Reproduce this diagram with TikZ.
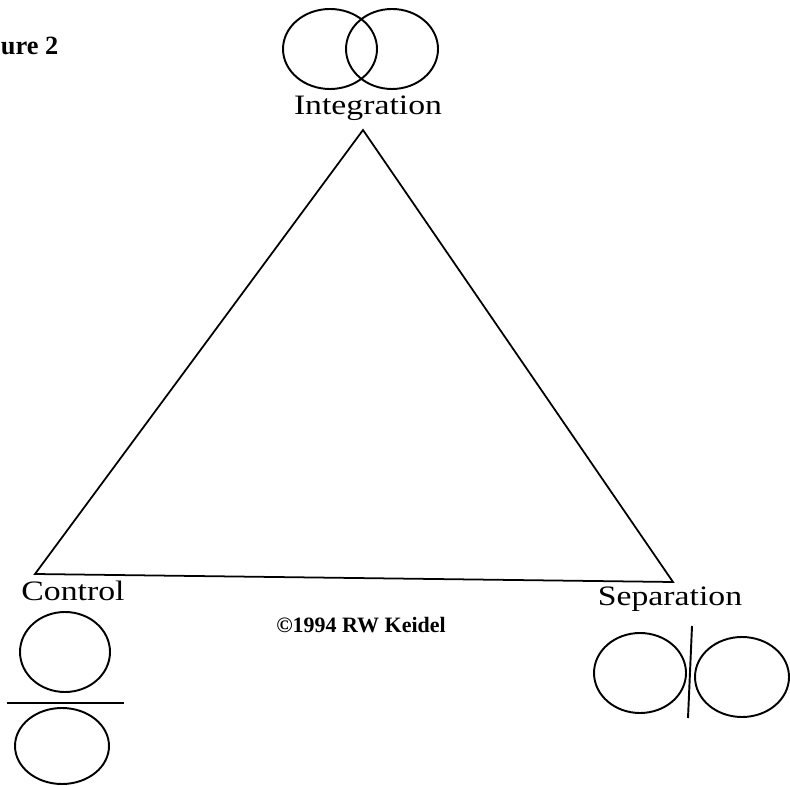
\documentclass[tikz,border=0pt]{standalone}
\usepackage{fontspec}
\setmainfont{Liberation Serif}
\usepackage{tikz}
\usetikzlibrary{positioning}

\begin{document}
\begin{tikzpicture}[x=0.02cm, y=-0.02cm, line width=1.1pt,
	lbl/.style={font=\fontsize{16}{18}\selectfont, xscale=1.2, transform shape, inner sep=0pt, anchor=base},
	small/.style={font=\bfseries\fontsize{12.5}{14}\selectfont, inner sep=0pt, anchor=base},
	]
	\useasboundingbox (0,0) rectangle (790,786);
	
	\node[small, font=\bfseries\fontsize{15}{17}\selectfont, anchor=base west] (fig) at (0,55) {ure 2};
	
	% triangle
	\coordinate (apex) at (363,130);
	\coordinate (lowleft) at (35,574);
	\coordinate (lowright) at (673,582);
	\draw[line width=1pt] (apex) -- (lowleft) -- (lowright) -- cycle;
	
	\node[lbl] (intg) at (368,115) {Integration};
	\node[lbl] (ctrl) at (73,600) {Control};
	\node[lbl] (sepr) at (670,605) {Separation};
	\node[small] (copy) at (361,632) {\textcopyright1994 RW Keidel};
	
	% integration
	\draw (330,49) ellipse [x radius=47, y radius=40];
	\draw (392,49) ellipse [x radius=46, y radius=40];
	
	% control
	\draw (65,652) ellipse [x radius=45, y radius=40];
	\coordinate (barl) at (7,703);
	\coordinate (barr) at (124,703);
	\draw (barl) -- (barr);
	\draw (62,746) ellipse [x radius=47, y radius=38];
	
	% separation
	\draw (640,673) ellipse [x radius=46, y radius=40];
	\coordinate (bart) at (692,626);
	\coordinate (barb) at (688,718);
	\draw (bart) -- (barb);
	\draw (742,677) ellipse [x radius=47, y radius=40];
\end{tikzpicture}
\end{document}
